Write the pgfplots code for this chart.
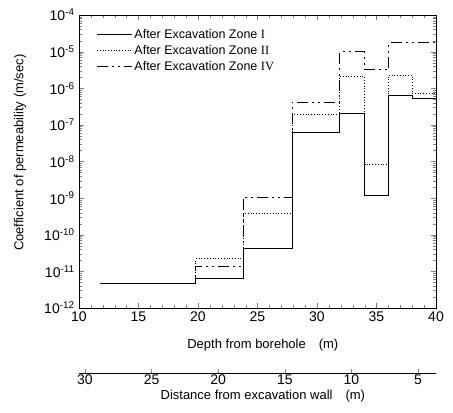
\documentclass[border=0pt]{standalone}
\usepackage{fontspec}
\setmainfont{Liberation Sans}
\newfontfamily\serif{Liberation Serif}
\usepackage{pgfplots}
\pgfplotsset{compat=1.18}
\pgfplotstableread{
x      z1       z2       z4
11.8   4.7e-12  4.7e-12  4.7e-12
19.8   6.6e-12  2.2e-11  1.4e-11
23.8   4.3e-11  3.9e-10  1.05e-9
27.9   6.2e-8   1.9e-7   4.1e-7
31.9   2.1e-7   2.07e-6  1.0e-5
34.0   1.2e-9   8.3e-9   3.2e-6
36.0   6.5e-7   2.3e-6   1.75e-5
38.0   5.3e-7   7.2e-7   1.75e-5
40.0   5.3e-7   7.2e-7   1.75e-5
}\permtable
\begin{document}
\begin{tikzpicture}
\useasboundingbox (-79bp,-105bp) rectangle (374bp,308bp);
\begin{axis}[
  at={(0,0)}, anchor=south west,
  scale only axis, width=357bp, height=293bp,
  xmin=10, xmax=40, ymode=log, ymin=1e-12, ymax=1e-4,
  xtick={10,15,...,40}, minor x tick num=4,
  ytick={1e-12,1e-11,1e-10,1e-9,1e-8,1e-7,1e-6,1e-5,1e-4},
  yticklabels={10\textsuperscript{-12},10\textsuperscript{-11},10\textsuperscript{-10},10\textsuperscript{-9},10\textsuperscript{-8},10\textsuperscript{-7},10\textsuperscript{-6},10\textsuperscript{-5},10\textsuperscript{-4}},
  tick align=inside,
  major tick length=5bp, minor tick length=3bp,
  /pgf/number format/assume math mode=true,
  tick label style={font=\fontsize{14bp}{16bp}\selectfont},
  yticklabel style={xshift=-1bp},
  xlabel={Depth from borehole\quad (m)},
  ylabel={Coefficient of permeability (m/sec)},
  every axis x label/.style={at={(axis description cs:0.515,-0.126)}, anchor=center, font=\fontsize{13bp}{15bp}\selectfont},
  every axis y label/.style={at={(axis description cs:-0.165,0.53)}, anchor=center, rotate=90, font=\fontsize{13bp}{15bp}\selectfont},
  legend style={at={(axis description cs:0.04,0.965)}, anchor=north west, draw=none, fill=none,
    font=\fontsize{12.5bp}{14bp}\selectfont, row sep=1.5bp},
  legend cell align=left,
  legend image code/.code={\draw[#1] (0bp,0bp) -- (35bp,0bp);},
  every axis plot/.append style={black, line width=0.8pt},
]
\addplot[const plot mark left, solid] table[x=x, y=z1] {\permtable};
\addlegendentry{After Excavation Zone {\serif I}}
\addplot[const plot mark left, dotted, line width=1pt] table[x=x, y=z2] {\permtable};
\addlegendentry{After Excavation Zone {\serif II}}
\addplot[const plot mark left, dash pattern=on 11bp off 4bp on 2bp off 4bp on 2bp off 4bp] table[x=x, y=z4] {\permtable};
\addlegendentry{After Excavation Zone {\serif IV}}
\end{axis}
\begin{axis}[
  at={(0,-65bp)}, anchor=south west,
  scale only axis, width=357bp, height=10bp,
  hide y axis, axis x line=bottom, axis line style={-},
  x dir=reverse, xmin=3.65, xmax=30.45, ymin=0, ymax=1,
  xtick={5,10,...,30}, xtick align=inside, major tick length=4bp,
  /pgf/number format/assume math mode=true,
  tick label style={font=\fontsize{14bp}{16bp}\selectfont},
  xticklabel style={yshift=2bp},
  xlabel={Distance from excavation wall\quad (m)},
  every axis x label/.style={at={(axis description cs:0.515,0)}, anchor=center, yshift=-23bp, font=\fontsize{13bp}{15bp}\selectfont},
]
\addplot[draw=none] coordinates {(10,0.5)};
\end{axis}
\end{tikzpicture}
\end{document}
